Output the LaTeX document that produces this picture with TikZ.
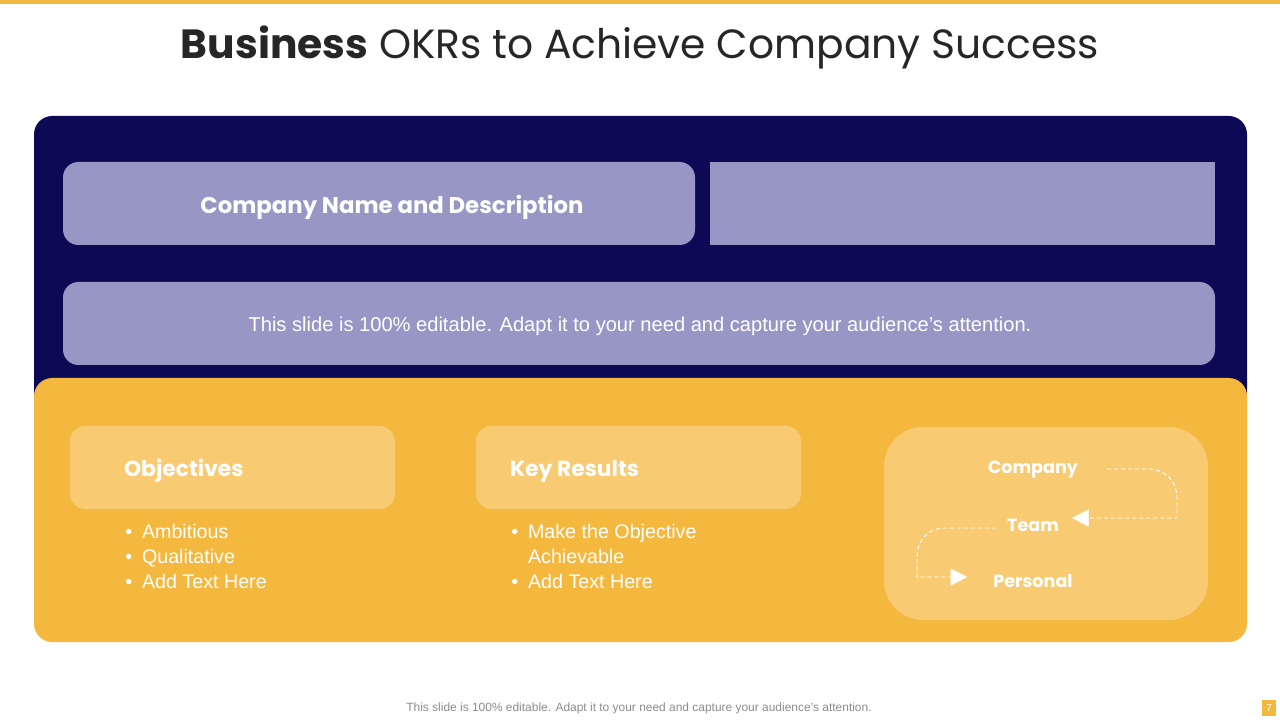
\documentclass[tikz,border=0pt]{standalone}
\usepackage{fontspec}
\setmainfont{Liberation Sans}
\newfontfamily\gothic{Poppins}
\usepackage{tikz}
\usetikzlibrary{arrows.meta, positioning, calc}

\definecolor{navy}{HTML}{0D0A55}
\definecolor{lavender}{HTML}{9896C5}
\definecolor{okrgold}{HTML}{F5B83F}
\definecolor{paleglow}{HTML}{F8CB72}
\definecolor{footgray}{HTML}{8C8C8C}
\definecolor{titlegray}{HTML}{262626}

\begin{document}
\begin{tikzpicture}[x=0.025cm, y=-0.025cm,
    heading/.style={text=white, font=\gothic\bfseries\fontsize{15.5}{18}\selectfont, inner sep=2pt},
    bullets/.style={text=white, font=\fontsize{14}{18}\selectfont, inner sep=0pt, anchor=north west},
    level/.style={text=white, font=\gothic\bfseries\fontsize{12.5}{15}\selectfont},
    flowline/.style={white, line width=0.7pt, dash pattern=on 3pt off 2pt, -{Triangle[length=12pt, width=12pt]}}]
    \useasboundingbox (0,0) rectangle (1280,720);
    \fill[white] (0,0) rectangle (1280,720);

    % Top bar and title
    \fill[okrgold] (0,0) rectangle (1280,4);
    \node[text=titlegray, font=\gothic\fontsize{29}{34}\selectfont] (title) at (640,47)
        {{\bfseries Business} OKRs to Achieve Company Success};

    % Dark upper panel
    \fill[navy, rounded corners=13pt] (34,116) rectangle (1247,410);
    \fill[lavender, rounded corners=11pt] (63,162) rectangle (695,245);
    \fill[lavender] (710,162) rectangle (1215,245);
    \fill[lavender, rounded corners=11pt] (63,282) rectangle (1215,365);
    \node[text=white, font=\gothic\bfseries\fontsize{16.2}{19}\selectfont] (cname) at (392,207)
        {Company Name and Description};
    \node[text=white, font=\fontsize{14.3}{17}\selectfont] (editable) at (640,326)
        {This slide is 100\% editable. Adapt it to your need and capture your audience’s attention.};

    % Yellow lower panel
    \fill[okrgold, rounded corners=13pt] (34,378) rectangle (1247,642);
    \fill[paleglow, rounded corners=11pt] (70,426) rectangle (395,509);
    \fill[paleglow, rounded corners=11pt] (476,426) rectangle (801,509);
    \fill[paleglow, rounded corners=28pt] (884,427) rectangle (1208,620);

    % Objectives
    \node[heading, anchor=west] (obj) at (121,471) {Objectives};
    \node[bullets] (objlist) at (125,520) {\begin{tabular}{@{}l@{\hspace{7pt}}l@{}}
        \textbullet & Ambitious\\
        \textbullet & Qualitative\\
        \textbullet & Add Text Here
    \end{tabular}};

    % Key results
    \node[heading, anchor=west] (kr) at (507,471) {Key Results};
    \node[bullets] (krlist) at (511,520) {\begin{tabular}{@{}l@{\hspace{7pt}}l@{}}
        \textbullet & Make the Objective\\
                    & Achievable\\
        \textbullet & Add Text Here
    \end{tabular}};

    % Company -> Team -> Personal
    \node[level] (company) at (1033,470) {Company};
    \node[level] (team) at (1033,525) {Team};
    \node[level] (personal) at (1033,581) {Personal};
    \draw[flowline] ($(company.east)+(24,-1)$) -- ++(42,0) to[out=0,in=90] ++(28,28)
        |- ($(team.east)+(8,-7)$);
    \draw[flowline] ($(team.west)+(-6,3)$) -- ++(-52,0) to[out=180,in=90] ++(-27,27)
        |- ($(personal.west)+(-21,-4)$);

    % Footer
    \node[text=footgray, font=\fontsize{8.5}{10}\selectfont] (footer) at (639,708)
        {This slide is 100\% editable. Adapt it to your need and capture your audience’s attention.};
    \fill[okrgold] (1262,700) rectangle (1276,716);
    \node[text=white, font=\fontsize{7}{8}\selectfont] (pagenum) at (1269,708) {7};
\end{tikzpicture}
\end{document}
